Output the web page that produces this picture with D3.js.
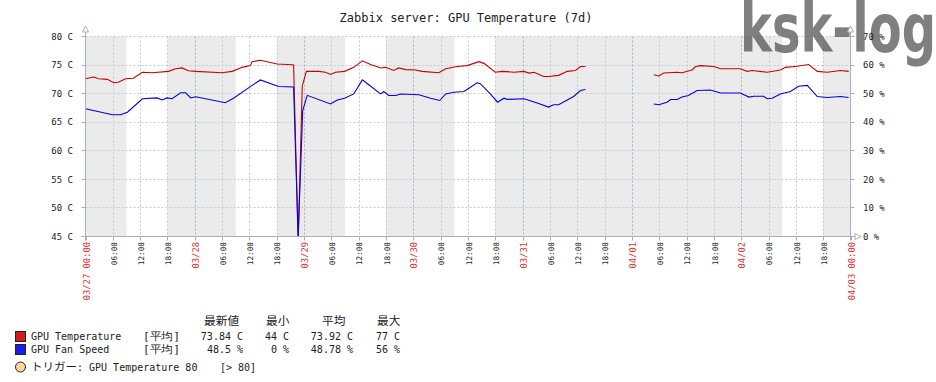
<!DOCTYPE html>
<html><head><meta charset="utf-8">
<script src="https://cdn.jsdelivr.net/npm/d3@7"></script>
<style>
html,body{margin:0;padding:0;background:#fff;}
svg{display:block;}
text{font-family:"DejaVu Sans Mono",monospace;fill:#222;}
</style></head>
<body>
<svg id="c" width="936" height="382"></svg>
<script>
// ---- data (hours since 03/27 00:00) ----
const title = "Zabbix server: GPU Temperature (7d)";
const tempHours = [0,1.8,2.9,4.8,6.2,7.2,8.8,10.5,12.5,14.6,18.2,19.8,21.2,22.6,24.2,30.0,32.2,34.4,36.2,36.6,38.4,42.1,45.4,45.7,46.7,47.6,48.5,51.2,52.7,53.8,54.9,56.9,58.9,60.8,62.6,64.8,65.9,67.7,68.8,70.3,72.5,73.9,77.6,79.1,81.6,83.8,86.4,87.5,90.0,91.5,94.1,96.3,97.4,98.5,100.6,101.7,103.9,105.8,107.6,108.7,109.8,117,124.8,125.9,127.0,129.9,131.0,133.2,134.0,135.1,138.0,139.5,143.8,145.3,146.4,149.7,152.6,153.7,156.3,158.8,160.7,162.9,165.8,167.6];
const tempValues = [72.6,72.9,72.6,72.5,71.9,72.0,72.6,72.7,73.75,73.65,73.9,74.35,74.5,74.0,73.9,73.65,73.9,74.6,74.9,75.6,75.85,75.2,75.05,75.0,44,71.3,73.9,73.9,73.75,73.35,73.75,73.9,74.6,75.75,75.1,74.5,74.6,74.05,74.5,74.2,74.15,73.9,73.65,74.35,74.75,74.9,75.6,75.3,73.75,73.9,73.75,73.9,73.6,73.75,73.0,73.0,73.2,73.9,74.05,74.75,74.75,null,73.3,73.1,73.6,73.75,73.65,74.15,74.75,74.9,74.75,74.35,74.35,73.9,74.05,73.75,74.15,74.6,74.8,75.1,73.9,73.75,74.05,73.9];
const fanHours = [0,5.9,7.7,9.2,12.5,15.7,16.8,17.9,19.0,20.9,22.0,23.1,24.2,30.7,32.5,36.6,38.4,42.4,45.7,46.7,47.7,48.7,53.8,55.3,56.9,58.9,60.8,62.2,64.8,65.5,66.6,68.1,69.2,73.2,75.8,77.8,79.1,80.9,83.1,84.2,86.0,86.7,88.9,90.5,91.9,92.6,96.3,99.2,101.7,102.8,103.9,107.2,108.7,109.8,117,124.8,125.9,127.7,128.5,129.9,131.0,132.4,134.3,137.2,139.5,143.8,145.7,146.8,148.9,149.7,150.8,152.6,154.8,156.6,158.5,159.2,160.7,162.9,165.8,167.6];
const fanValues = [44.7,42.6,42.6,43.5,48.2,48.5,47.8,48.5,48.2,50.3,50.3,48.5,48.9,46.8,48.4,52.9,54.8,52.5,52.3,0,44.1,49.4,46.4,47.8,48.4,49.9,54.8,53.1,49.9,50.75,49.35,49.35,49.9,49.6,48.4,47.6,49.9,50.5,50.75,51.9,53.8,53.5,49.9,47.0,48.4,48.0,48.2,46.7,45.3,46.1,46.1,49.0,51.1,51.45,null,46.4,46.1,47.0,47.95,47.95,48.8,49.35,51.1,51.3,50.2,50.2,48.8,49.1,49.1,48.2,48.4,49.9,50.75,52.6,52.9,51.7,49.0,48.65,49.0,48.65];
const offHours = [[0,9],[18,33],[42,57],[66,81],[90,153],[162,168]];
const tempTicks = [45,50,55,60,65,70,75,80];
const fanTicks = [0,10,20,30,40,50,60,70];
const tickLabels = ["03/27 00:00","06:00","12:00","18:00","03/28","06:00","12:00","18:00","03/29","06:00","12:00","18:00","03/30","06:00","12:00","18:00","03/31","06:00","12:00","18:00","04/01","06:00","12:00","18:00","04/02","06:00","12:00","18:00","04/03 00:00"];
const legendHeaders = ["最新値","最小","平均","最大"];
const legendRows = [
  {name:"GPU Temperature", func:"[平均]", vals:["73.84 C","44 C","73.92 C","77 C"], color:"#d41c1c"},
  {name:"GPU Fan Speed",   func:"[平均]", vals:["48.5 %","0 %","48.78 %","56 %"], color:"#1c1cf0"}
];
const triggerText = ["トリガー", ": GPU Temperature 80", "[> 80]"];

// ---- layout ----
const L=85.5, R=850.5, T=36.5, B=236.5;
const svg = d3.select("#c");
const x = d3.scaleLinear().domain([0,168]).range([L,R]);
const yT = d3.scaleLinear().domain([45,80]).range([B,T]);
const yF = d3.scaleLinear().domain([0,70]).range([B,T]);

// title
svg.append("text").attr("x",466).attr("y",22).attr("text-anchor","middle")
  .style("font-size","12px").text(title);

// bands
svg.append("g").selectAll("rect").data(offHours).join("rect")
  .attr("x",d=>x(d[0])).attr("width",d=>x(d[1])-x(d[0]))
  .attr("y",T).attr("height",B-T).attr("fill","#ebebeb");

// grid
const hTicks = d3.range(0,169,6);
svg.append("g").selectAll("line").data(hTicks.slice(1,-1)).join("line")
  .attr("x1",d=>Math.round(x(d))+0.5).attr("x2",d=>Math.round(x(d))+0.5)
  .attr("y1",T).attr("y2",B)
  .attr("stroke",d=>d%24===0?"#a9b2ba":"#c3cad1").attr("stroke-dasharray","2,2");
svg.append("g").selectAll("line").data(tempTicks.slice(1)).join("line")
  .attr("x1",L).attr("x2",R).attr("y1",d=>Math.round(yT(d)-0.5)+0.5).attr("y2",d=>Math.round(yT(d)-0.5)+0.5)
  .attr("stroke","#c3cad1").attr("stroke-dasharray","2,2");

// watermark
svg.append("text").attr("x",740).attr("y",52)
  .attr("textLength",196).attr("lengthAdjust","spacingAndGlyphs")
  .style("font-family","'DejaVu Sans Condensed','DejaVu Sans',sans-serif")
  .style("font-weight","bold").style("font-size","68px")
  .style("fill","#555").style("opacity",0.75).text("ksk-log");

// lines
svg.append("clipPath").attr("id","plot").append("rect")
  .attr("x",L).attr("y",T-1).attr("width",R-L).attr("height",B-T+1);
const tempData = tempHours.map((h,i)=>({h,v:tempValues[i]}));
const fanData = fanHours.map((h,i)=>({h,v:fanValues[i]}));
const g = svg.append("g").attr("clip-path","url(#plot)");
g.append("path").datum(tempData)
  .attr("d",d3.line().defined(d=>d.v!==null).x(d=>x(d.h)).y(d=>yT(d.v)))
  .attr("fill","none").attr("stroke","#cc0000").attr("stroke-width",1.1);
g.append("path").datum(fanData)
  .attr("d",d3.line().defined(d=>d.v!==null).x(d=>x(d.h)).y(d=>yF(d.v)))
  .attr("fill","none").attr("stroke","#0000e6").attr("stroke-width",1.1);

// axes
const axC = "#a7b1bb";
svg.append("line").attr("x1",L).attr("x2",L).attr("y1",32).attr("y2",B+4).attr("stroke",axC);
svg.append("line").attr("x1",R).attr("x2",R).attr("y1",32).attr("y2",B+4).attr("stroke",axC);
svg.append("line").attr("x1",L-4).attr("x2",855).attr("y1",B).attr("y2",B).attr("stroke",axC);
svg.append("path").attr("d",`M${L},26 L${L+3},32 L${L-3},32 Z`).attr("fill","#fff").attr("stroke",axC);
svg.append("path").attr("d",`M${R},26 L${R+3},32 L${R-3},32 Z`).attr("fill","#fff").attr("stroke",axC);
svg.append("path").attr("d",`M861,${B} L855,${B-3} L855,${B+3} Z`).attr("fill","#fff").attr("stroke",axC);

// axis ticks
svg.append("g").selectAll("line").data(tempTicks).join("line")
  .attr("x1",L-4).attr("x2",L).attr("y1",d=>Math.round(yT(d)-0.5)+0.5).attr("y2",d=>Math.round(yT(d)-0.5)+0.5).attr("stroke",axC);
svg.append("g").selectAll("line").data(fanTicks).join("line")
  .attr("x1",R).attr("x2",R+4).attr("y1",d=>Math.round(yF(d)-0.5)+0.5).attr("y2",d=>Math.round(yF(d)-0.5)+0.5).attr("stroke",axC);
svg.append("g").selectAll("line").data(hTicks).join("line")
  .attr("x1",d=>Math.round(x(d))+0.5).attr("x2",d=>Math.round(x(d))+0.5)
  .attr("y1",B).attr("y2",B+4).attr("stroke",axC);

// y labels
svg.append("g").selectAll("text").data(tempTicks).join("text")
  .attr("x",73).attr("y",d=>yT(d)).attr("dy","0.35em").attr("text-anchor","end")
  .style("font-size","9px").text(d=>d+" C");
svg.append("g").selectAll("text").data(fanTicks).join("text")
  .attr("x",863).attr("y",d=>yF(d)).attr("dy","0.35em")
  .style("font-size","9px").text(d=>d+" %");

// x labels
svg.append("g").selectAll("text").data(hTicks).join("text")
  .attr("transform",(d,i)=>`translate(${x(d)+1},242) rotate(-90)`)
  .attr("dy","0.35em").attr("text-anchor","end")
  .style("font-size",(d)=>d%24===0?"8.8px":"7.7px")
  .style("fill",d=>d%24===0?"#e83434":"#222")
  .text((d,i)=>tickLabels[i]);

// legend
const hdrX = [204,266,322,377];
svg.append("g").selectAll("text").data(legendHeaders).join("text")
  .attr("x",(d,i)=>hdrX[i]).attr("y",325)
  .attr("textLength",d=>d.length*11.7).attr("lengthAdjust","spacingAndGlyphs")
  .style("font-size","11px").style("font-family","'Noto Sans CJK JP',sans-serif").text(d=>d);
const valRight = [243,289,353,400];
legendRows.forEach((r,i)=>{
  const cy = 336.5 + i*13;
  svg.append("rect").attr("x",15.5).attr("y",cy-5).attr("width",10).attr("height",10)
    .attr("fill",r.color).attr("stroke","#222");
  svg.append("text").attr("x",31).attr("y",cy).attr("dy","0.35em").style("font-size","10px").text(r.name);
  svg.append("text").attr("x",143).attr("y",cy).attr("dy","0.35em")
    .attr("textLength",37).attr("lengthAdjust","spacingAndGlyphs")
    .style("font-size","10.5px").text(r.func);
  r.vals.forEach((v,j)=>{
    svg.append("text").attr("x",valRight[j]).attr("y",cy).attr("dy","0.35em")
      .attr("text-anchor","end").style("font-size","10px").text(v);
  });
});
svg.append("circle").attr("cx",20.5).attr("cy",367).attr("r",5)
  .attr("fill","#ffd699").attr("stroke","#222");
svg.append("text").attr("x",31).attr("y",367).attr("dy","0.35em")
  .attr("textLength",46).attr("lengthAdjust","spacingAndGlyphs")
  .style("font-size","11px").style("font-family","'Noto Sans CJK JP',sans-serif").text(triggerText[0]);
svg.append("text").attr("x",77).attr("y",367).attr("dy","0.35em").style("font-size","10px").text(triggerText[1]);
svg.append("text").attr("x",220).attr("y",367).attr("dy","0.35em").style("font-size","10px").text(triggerText[2]);
</script>
</body></html>
